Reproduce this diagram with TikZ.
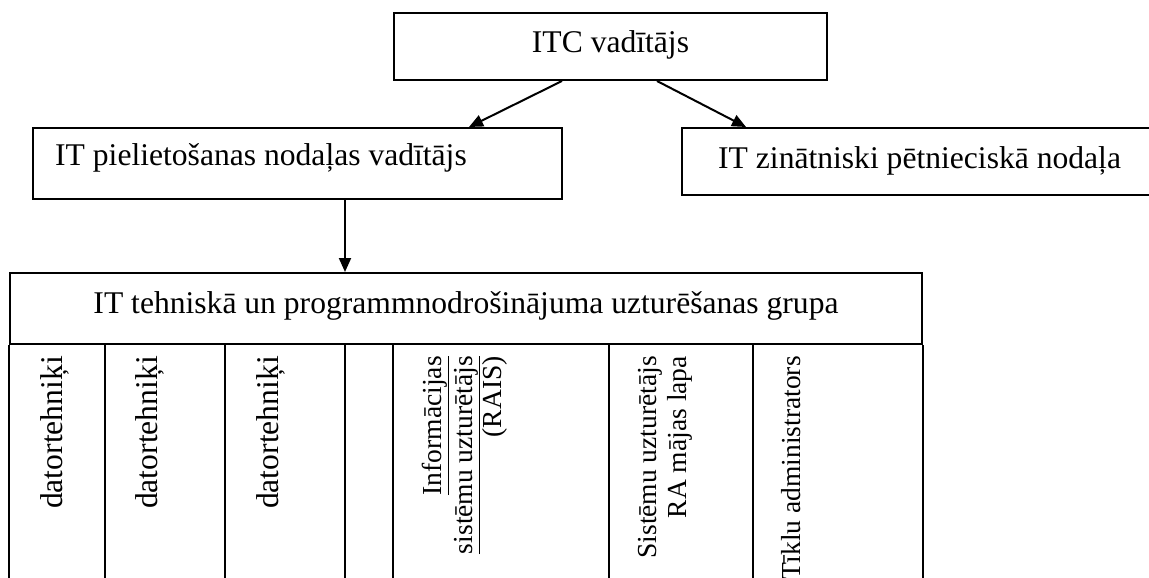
\documentclass[tikz,border=0pt]{standalone}
\usepackage{fontspec}
\setmainfont{Liberation Serif}
\usetikzlibrary{arrows.meta}
\begin{document}
\begin{tikzpicture}[x=1pt,y=-1pt,
  box/.style={draw, line width=2pt, inner sep=0pt, minimum width=#1},
  big/.style={font=\fontsize{31.6}{36}\selectfont, inner sep=0pt},
  small/.style={font=\fontsize{27.5}{30}\selectfont, inner sep=0pt},
  vert/.style={rotate=90, anchor=base east},
  arr/.style={-{Triangle[length=14pt,width=12pt]}, line width=2pt},
  rule/.style={line width=2pt}]
\clip (0,0) rectangle (1149,578);
% boxes
\node[box=433pt, minimum height=67pt] (itc) at (610.5,46.5) {};
\node[box=529pt, minimum height=71pt] (lead) at (297.5,163.5) {};
\node[box=475pt, minimum height=67pt] (sci) at (919.5,161.5) {};
\node[box=912pt, minimum height=71pt] (grp) at (466,308.5) {};
% texts
\node[big, anchor=base] (itct) at (610.5,53) {ITC vadītājs};
\node[big, anchor=base west] (leadt) at (55,165) {IT pielietošanas nodaļas vadītājs};
\node[big, anchor=base west] (scit) at (718,168) {IT zinātniski pētnieciskā nodaļa};
\node[big, anchor=base] (grpt) at (466,313) {IT tehniskā un programmnodrošinājuma uzturēšanas grupa};
% arrows
\draw[arr] ([xshift=169pt]itc.south west) -- ([xshift=437pt]lead.north west);
\draw[arr] ([xshift=264pt]itc.south west) -- ([xshift=65pt]sci.north west);
\draw[arr] ([xshift=313pt]lead.south west) -- ([xshift=336pt]grp.north west);
% columns
\draw[rule] (grp.south west) -- ++(0,250);
\draw[rule] (grp.south east) -- ++(0,250);
\foreach \dx/\nm in {96/c1,216/c2,336/c3,384/c4,600/c5,744/c6}{
  \draw[rule] ([xshift=\dx pt]grp.south west) coordinate (\nm) -- ++(0,250);
}
% column texts
\node[big, vert] (d1) at (62,356) {datortehniķi};
\node[big, vert] (d2) at (157,356) {datortehniķi};
\node[big, vert] (d3) at (278,356) {datortehniķi};
\node[small, vert] (i1) at (441,356) {\underline{Informācijas}};
\node[small, vert] (i2) at (472,356) {\underline{sistēmu uzturētājs}};
\node[small, vert] (i3) at (501,356) {(RAIS)};
\node[small, vert] (s1) at (656,356) {Sistēmu uzturētājs};
\node[small, vert] (s2) at (686,356) {RA mājas lapa};
\node[small, vert] (t1) at (800,356) {Tīklu administrators};
\end{tikzpicture}
\end{document}
